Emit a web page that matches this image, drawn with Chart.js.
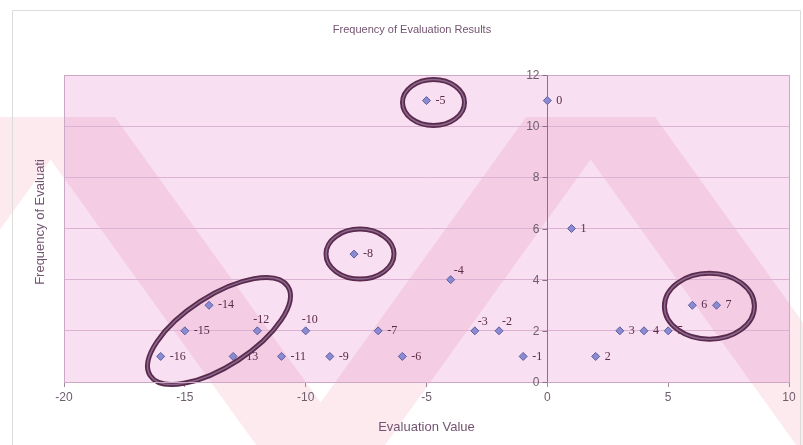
<!DOCTYPE html>
<html><head><meta charset="utf-8">
<script src="https://cdn.jsdelivr.net/npm/chart.js@4.4.1/dist/chart.umd.min.js"></script>
<style>html,body{margin:0;padding:0;background:#fff}#wrap{width:803px;height:445px}</style>
</head><body><div id="wrap"><canvas id="c" width="803" height="445"></canvas></div>
<script>
// ---- data ----
const chartTitle = 'Frequency of Evaluation Results';
const xAxisTitle = 'Evaluation Value';
const yAxisTitle = 'Frequency of Evaluati';
const evaluationValues = [-16,-15,-14,-13,-12,-11,-10,-9,-8,-7,-6,-5,-4,-3,-2,-1,0,1,2,3,4,5,6,7];
const frequencies      = [  1,  2,  3,  1,  2,  1,  2, 1, 5, 2, 1,11, 4, 2, 2, 1,11,6,1,2,2,2,3,3];
const pointLabels      = ['-16','-15','-14','-13','-12','-11','-10','-9','-8','-7','-6','-5','-4','-3','-2','-1','0','1','2','3','4','5','6','7'];
const xMin = -20, xMax = 10, xStep = 5;
const yMin = 0, yMax = 12, yStep = 2;
const circledGroups = [[-5], [-8], [6, 7], [-16, -15, -14, -13, -12]];

// ---- styles ----
const labelAbove = new Set([-12, -10]);
const labelAboveRight = new Set([-4, -3, -2]);
const ellipseStyles = [
  {dx: 7, dy: 2, rx: 31, ry: 23, rot: 0},
  {dx: 6, dy: 0, rx: 34, ry: 25, rot: 0},
  {dx: 5, dy: 1, rx: 45, ry: 33, rot: 0},
  {dx: 10, dy: -5, rx: 82, ry: 35, rot: -33}
];
const textColor = '#735470';
const tickColor = '#6e5e6c';
const sans = '"Liberation Sans", Arial, sans-serif';

function drawBands(ctx, color) {
  const top = 117, bot = 445;
  const w = 95, slope = 0.72 * (bot - top);
  const starts = [-250, 20, 290, 560, 830];
  ctx.fillStyle = color;
  starts.forEach((s, i) => {
    ctx.beginPath();
    if (i % 2 === 0) {
      ctx.moveTo(s + slope, top); ctx.lineTo(s + slope + w, top);
      ctx.lineTo(s + w, bot); ctx.lineTo(s, bot);
    } else {
      ctx.moveTo(s, top); ctx.lineTo(s + w, top);
      ctx.lineTo(s + w + slope, bot); ctx.lineTo(s + slope, bot);
    }
    ctx.closePath(); ctx.fill();
  });
}

const backgroundPlugin = {
  id: 'bg',
  beforeDraw(chart) {
    const {ctx, chartArea: a, width, height} = chart;
    ctx.save();
    ctx.fillStyle = '#ffffff'; ctx.fillRect(0, 0, width, height);
    drawBands(ctx, '#fdeaee');
    ctx.strokeStyle = '#dcdcdc'; ctx.lineWidth = 1;
    ctx.beginPath(); ctx.moveTo(12.5, height); ctx.lineTo(12.5, 10.5); ctx.lineTo(800.5, 10.5); ctx.lineTo(800.5, height); ctx.stroke();
    ctx.beginPath(); ctx.rect(a.left, a.top, a.width, a.height); ctx.clip();
    ctx.fillStyle = '#f8dff1'; ctx.fillRect(a.left, a.top, a.width, a.height);
    drawBands(ctx, '#f4cde5');
    ctx.restore();
  },
  afterDraw(chart) {
    const {ctx, chartArea: a} = chart;
    ctx.save();
    ctx.strokeStyle = '#cba8c6'; ctx.lineWidth = 1;
    ctx.strokeRect(Math.round(a.left) + 0.5, Math.round(a.top) + 0.5, Math.round(a.width), Math.round(a.height));
    ctx.restore();
  }
};

// y tick labels and tick marks beside the axis that crosses at x = 0
const yTicksPlugin = {
  id: 'yTicksAtZero',
  afterDraw(chart) {
    const {ctx, scales: {x, y}} = chart;
    const ax = Math.round(x.getPixelForValue(0)) + 0.5;
    ctx.save();
    ctx.font = '12px ' + sans;
    ctx.fillStyle = tickColor;
    ctx.textAlign = 'right'; ctx.textBaseline = 'middle';
    ctx.strokeStyle = '#8a7090'; ctx.lineWidth = 1;
    y.ticks.forEach(t => {
      const py = Math.round(y.getPixelForValue(t.value)) + 0.5;
      ctx.beginPath(); ctx.moveTo(ax - 5, py); ctx.lineTo(ax, py); ctx.stroke();
      ctx.fillText(String(t.value), ax - 8, py);
    });
    ctx.restore();
  }
};

const labelPlugin = {
  id: 'pointLabels',
  afterDatasetsDraw(chart) {
    const {ctx, scales: {x, y}} = chart;
    ctx.save();
    ctx.font = '12px "Liberation Serif", "Times New Roman", serif';
    ctx.fillStyle = '#5a2a48';
    ctx.textBaseline = 'middle';
    ctx.textAlign = 'left';
    evaluationValues.forEach((v, i) => {
      const px = x.getPixelForValue(v), py = y.getPixelForValue(frequencies[i]);
      let tx = px + 9, ty = py;
      if (labelAbove.has(v)) { tx = px - 4; ty = py - 11; }
      else if (labelAboveRight.has(v)) { tx = px + 3; ty = py - 9; }
      ctx.fillText(pointLabels[i], tx, ty);
    });
    ctx.restore();
  }
};

const ellipsePlugin = {
  id: 'circles',
  afterDatasetsDraw(chart) {
    const {ctx, scales: {x, y}} = chart;
    ctx.save();
    circledGroups.forEach((g, gi) => {
      let sx = 0, sy = 0;
      g.forEach(v => {
        const i = evaluationValues.indexOf(v);
        sx += x.getPixelForValue(v); sy += y.getPixelForValue(frequencies[i]);
      });
      const s = ellipseStyles[gi];
      const cx = sx / g.length + s.dx, cy = sy / g.length + s.dy;
      ctx.beginPath();
      ctx.ellipse(cx, cy, s.rx, s.ry, s.rot * Math.PI / 180, 0, Math.PI * 2);
      ctx.lineWidth = 5; ctx.strokeStyle = '#5b2a4c'; ctx.stroke();
      ctx.lineWidth = 1.5; ctx.strokeStyle = '#8a6a8e'; ctx.stroke();
    });
    ctx.restore();
  }
};

const titlesPlugin = {
  id: 'titles',
  afterDraw(chart) {
    const {ctx} = chart;
    ctx.save();
    ctx.fillStyle = textColor;
    ctx.textAlign = 'center'; ctx.textBaseline = 'middle';
    ctx.font = '11px ' + sans;
    ctx.fillText(chartTitle, 412, 30);
    ctx.translate(40, 222);
    ctx.rotate(-Math.PI / 2);
    ctx.font = '13px ' + sans;
    ctx.fillText(yAxisTitle, 0, 0);
    ctx.restore();
  }
};

new Chart(document.getElementById('c'), {
  type: 'scatter',
  data: {
    datasets: [{
      label: 'Frequency',
      data: evaluationValues.map((v, i) => ({x: v, y: frequencies[i]})),
      pointStyle: 'rectRot',
      pointRadius: 4,
      pointHoverRadius: 4,
      backgroundColor: '#8b8bd2',
      borderColor: '#5e5ea0',
      borderWidth: 1
    }]
  },
  options: {
    responsive: false,
    animation: false,
    devicePixelRatio: 1,
    layout: {padding: {left: 64, right: 14, top: 75, bottom: 6}},
    plugins: {
      legend: {display: false},
      tooltip: {enabled: false},
      title: {display: false, text: chartTitle}
    },
    scales: {
      x: {
        type: 'linear', position: 'bottom', min: xMin, max: xMax,
        ticks: {stepSize: xStep, color: tickColor, font: {family: sans, size: 12}, padding: 3},
        grid: {display: true, drawOnChartArea: false, drawTicks: true, tickLength: 5, tickColor: '#a08aa0'},
        border: {display: true, color: '#b898b4'},
        title: {display: true, text: xAxisTitle, color: textColor, font: {family: sans, size: 13}, padding: {top: 12, bottom: 4}}
      },
      y: {
        type: 'linear', position: {x: 0}, min: yMin, max: yMax,
        ticks: {stepSize: yStep, display: false},
        grid: {color: '#dcb2d2', drawTicks: false},
        border: {display: true, color: '#8a7090'}
      }
    }
  },
  plugins: [backgroundPlugin, labelPlugin, ellipsePlugin, yTicksPlugin, titlesPlugin]
});
</script>
</body></html>
